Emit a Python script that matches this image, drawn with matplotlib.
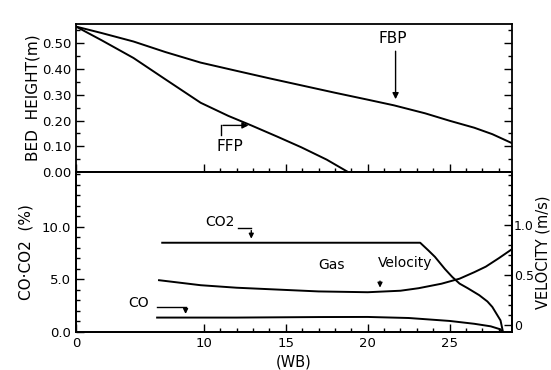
import numpy as np
import matplotlib
matplotlib.use("Agg")
import matplotlib.pyplot as plt
from matplotlib.ticker import FixedLocator, MultipleLocator, FixedFormatter

# ---- data ----
fbp_x = [0, 2.0, 4.5, 7.0, 9.76, 12.0, 14.0, 16.0, 18.0, 20.0, 21.6, 23.5, 25.0, 26.5, 27.6, 28.8]
fbp_y = [0.565, 0.540, 0.507, 0.466, 0.425, 0.393, 0.364, 0.336, 0.308, 0.281, 0.259, 0.228, 0.199, 0.172, 0.147, 0.112]

ffp_x = [0, 2.0, 4.5, 7.0, 9.76, 11.5, 12.9, 14.5, 15.95, 17.5, 18.8]
ffp_y = [0.565, 0.512, 0.443, 0.360, 0.269, 0.218, 0.181, 0.137, 0.096, 0.048, 0.0]

co2_x = [6.75, 23.2, 23.7, 24.1, 24.7, 25.15, 25.6, 26.1, 26.8, 27.3, 27.6, 28.1, 28.25]
co2_y = [8.48, 8.48, 7.75, 7.14, 6.0, 5.24, 4.6, 4.16, 3.5, 2.9, 2.38, 1.1, 0.0]

co_x = [6.35, 12.0, 17.0, 20.0, 22.5, 25.0, 26.5, 27.5, 28.1, 28.2]
co_y = [1.37, 1.37, 1.42, 1.43, 1.33, 1.05, 0.78, 0.54, 0.25, 0.0]

vel_x = [6.5, 9.76, 12.0, 14.7, 17.0, 20.0, 22.0, 23.1, 24.5, 25.6, 26.5, 27.2, 28.0, 28.8]
vel_y = [0.45, 0.40, 0.375, 0.355, 0.338, 0.33, 0.345, 0.37, 0.415, 0.465, 0.53, 0.585, 0.67, 0.76]

x_major = [0, 10, 15, 20, 25]
x_minor = list(range(11, 29))
top_yticks = [0.0, 0.1, 0.2, 0.3, 0.4, 0.5]
bot_yticks = [0.0, 5.0, 10.0]
vel_ticks = [0, 0.5, 1.0]

# broken x axis: 0-10 compressed
R = 0.779
def fwd(x):
    x = np.asarray(x, dtype=float)
    return np.where(x < 10, x * R, 10 * R + (x - 10))
def inv(y):
    y = np.asarray(y, dtype=float)
    return np.where(y < 10 * R, y / R, y - 10 * R + 10)

plt.rcParams['font.family'] = ['DejaVu Sans']
W, H = 551, 370
fig = plt.figure(figsize=(W / 100, H / 100), dpi=100)
L, Rr = 76 / W, 512 / W
ax1 = fig.add_axes([L, 1 - 172 / H, Rr - L, (172 - 24) / H])
ax2 = fig.add_axes([L, 1 - 332 / H, Rr - L, (332 - 172) / H])
ax3 = ax2.twinx()

lw = 1.4
for ax in (ax1, ax2, ax3):
    ax.set_xscale('function', functions=(fwd, inv))
    for s in ax.spines.values():
        s.set_linewidth(1.3)

# top panel
ax1.plot(fbp_x, fbp_y, color='black', lw=lw)
ax1.plot(ffp_x, ffp_y, color='black', lw=lw)
ax1.set_ylim(0, 0.575)
ax1.yaxis.set_major_locator(FixedLocator(top_yticks))
ax1.yaxis.set_minor_locator(MultipleLocator(0.05))
ax1.yaxis.set_major_formatter(FixedFormatter(['%.2f' % v for v in top_yticks]))
ax1.set_ylabel('BED  HEIGHT(m)', fontsize=11, labelpad=1)

ax1.text(21.5, 0.52, 'FBP', fontsize=11, ha='center', va='center')
ax1.annotate('', xy=(21.7, 0.272), xytext=(21.7, 0.48),
             arrowprops=dict(arrowstyle='-|>', color='black', lw=1.0, mutation_scale=9))
ax1.text(11.6, 0.10, 'FFP', fontsize=11, ha='center', va='center')
ax1.plot([11.05, 11.05], [0.145, 0.181], color='black', lw=1.0)
ax1.annotate('', xy=(12.9, 0.181), xytext=(11.0, 0.181),
             arrowprops=dict(arrowstyle='-|>', color='black', lw=1.0, mutation_scale=9))

# bottom panel
ax2.plot(co2_x, co2_y, color='black', lw=lw)
ax2.plot(co_x, co_y, color='black', lw=lw)
ax2.set_ylim(0, 15.2)
ax2.yaxis.set_major_locator(FixedLocator(bot_yticks))
ax2.yaxis.set_minor_locator(MultipleLocator(1))
ax2.yaxis.set_major_formatter(FixedFormatter(['%.1f' % v for v in bot_yticks]))
ax2.set_xlabel('(WB)', fontsize=10.5, labelpad=3)
ax2.set_ylabel('CO·CO2  (%)', fontsize=11, labelpad=6)

ax3.plot(vel_x, vel_y, color='black', lw=lw)
ax3.set_ylim(-0.067, 1.53)
ax3.yaxis.set_major_locator(FixedLocator(vel_ticks))
ax3.yaxis.set_minor_locator(MultipleLocator(0.1))
ax3.yaxis.set_major_formatter(FixedFormatter(['0', '0.5', '1.0']))
ax3.set_ylabel('VELOCITY (m/s)', fontsize=10.5, labelpad=1)

ax2.text(11.0, 10.45, 'CO2', fontsize=10, ha='center', va='center')
ax2.plot([12.1, 12.9], [9.85, 9.85], color='black', lw=1.0)
ax2.annotate('', xy=(12.9, 8.6), xytext=(12.9, 9.9),
             arrowprops=dict(arrowstyle='-|>', color='black', lw=1.0, mutation_scale=7))
ax2.text(4.9, 2.73, 'CO', fontsize=10, ha='center', va='center')
ax2.plot([6.35, 8.58], [2.38, 2.38], color='black', lw=1.0)
ax2.annotate('', xy=(8.58, 1.45), xytext=(8.58, 2.43),
             arrowprops=dict(arrowstyle='-|>', color='black', lw=1.0, mutation_scale=7))
ax2.text(17.8, 6.35, 'Gas', fontsize=10, ha='center', va='center')
ax2.text(22.3, 6.54, 'Velocity', fontsize=10, ha='center', va='center')
ax2.annotate('', xy=(20.75, 3.95), xytext=(20.75, 5.1),
             arrowprops=dict(arrowstyle='-|>', color='black', lw=1.0, mutation_scale=7))

# ticks & limits last
for ax in (ax1, ax2, ax3):
    ax.set_xlim(0, 28.8)
    ax.xaxis.set_major_locator(FixedLocator(x_major))
    ax.xaxis.set_minor_locator(FixedLocator(x_minor))
    ax.xaxis.set_major_formatter(FixedFormatter([str(v) for v in x_major]))
    ax.tick_params(which='both', direction='in', top=False, width=1.0)
    ax.tick_params(which='major', length=6, labelsize=9.5)
    ax.tick_params(which='minor', length=3)
ax1.tick_params(axis='y', which='both', right=True)
ax1.tick_params(axis='x', labelbottom=False)
ax3.tick_params(axis='y', which='major', pad=1.5, labelsize=9)

fig.savefig('out.png', dpi=100)
